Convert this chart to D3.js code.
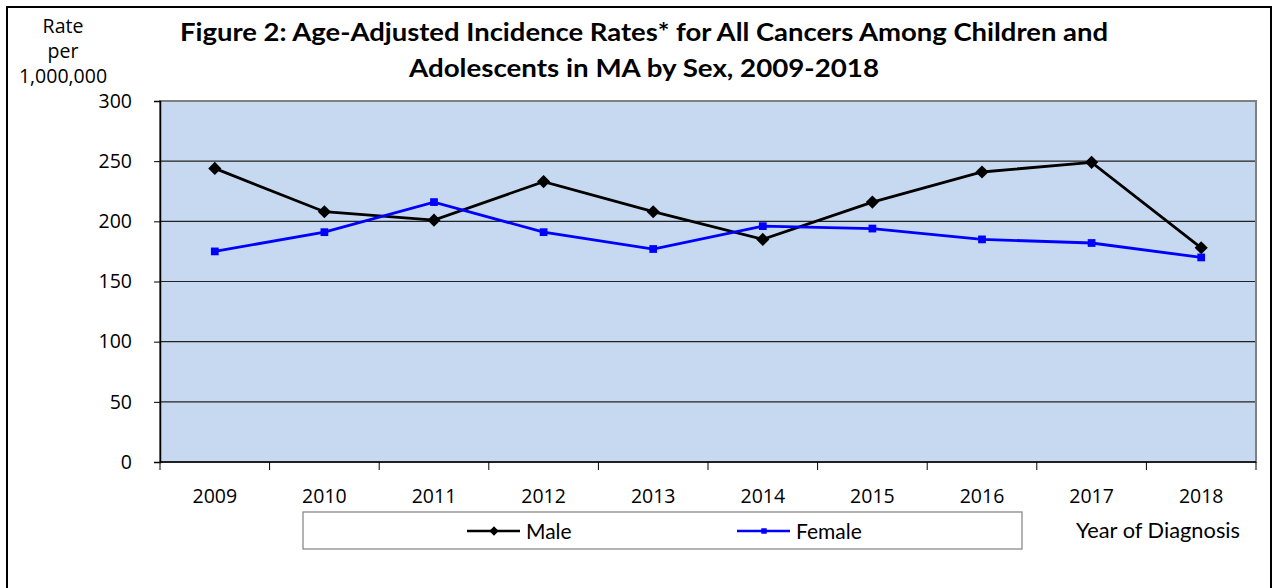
<!DOCTYPE html>
<html>
<head>
<meta charset="utf-8">
<script src="https://cdn.jsdelivr.net/npm/d3@7"></script>
<style>
  body { margin: 0; background: #fff; }
  svg { display: block; }
</style>
</head>
<body>
<svg id="chart" width="1275" height="588"></svg>
<script>
// data
const years = ['2009', '2010', '2011', '2012', '2013', '2014', '2015', '2016', '2017', '2018']
const male = [244, 208, 201, 233, 208, 185, 216, 241, 249, 178]
const female = [175, 191, 216, 191, 177, 196, 194, 185, 182, 170]
const yTicks = [0, 50, 100, 150, 200, 250, 300]
const titleLines = [
    'Figure 2: Age-Adjusted Incidence Rates* for All Cancers Among Children and',
    'Adolescents in MA by Sex, 2009-2018'
]

const svg = d3.select('#chart')
const m = { left: 160, right: 1256, top: 101, bottom: 462 }
const sansFont = "'Open Sans', 'DejaVu Sans', sans-serif"
const titleFont = "Lato, 'Open Sans', sans-serif"

// outer frame
svg.append('path')
    .attr('d', 'M7,592 V7 H1271 V592')
    .attr('fill', 'none')
    .attr('stroke', '#000')
    .attr('stroke-width', 2)

const x = d3.scaleBand().domain(years).range([m.left, m.right])
const y = d3.scaleLinear().domain([0, 300]).range([m.bottom, m.top])

// plot area
svg.append('rect')
    .attr('x', m.left).attr('y', m.top)
    .attr('width', m.right - m.left).attr('height', m.bottom - m.top)
    .attr('fill', '#c6d9f0')

// gridlines
svg.append('g')
    .selectAll('line')
    .data(yTicks.slice(1, -1))
    .join('line')
    .attr('x1', m.left).attr('x2', m.right)
    .attr('y1', d => y(d)).attr('y2', d => y(d))
    .attr('stroke', '#222')
    .attr('stroke-width', 1.2)

svg.append('rect')
    .attr('x', m.left).attr('y', m.top)
    .attr('width', m.right - m.left).attr('height', m.bottom - m.top)
    .attr('fill', 'none')
    .attr('stroke', '#808080')
    .attr('stroke-width', 2)

// y axis
const yAxis = svg.append('g')
    .attr('transform', `translate(${m.left},0)`)
    .call(d3.axisLeft(y).tickValues(yTicks).tickSize(6).tickPadding(22))
yAxis.select('.domain').attr('stroke', '#000').attr('stroke-width', 1.5)
yAxis.selectAll('.tick line').attr('stroke', '#000')
yAxis.selectAll('text')
    .attr('font-family', sansFont)
    .attr('font-size', 19.5)
    .attr('fill', '#000')

// x axis: ticks on band edges
const xg = svg.append('g')
xg.append('line')
    .attr('x1', m.left).attr('x2', m.right)
    .attr('y1', m.bottom).attr('y2', m.bottom)
    .attr('stroke', '#000').attr('stroke-width', 1.5)
xg.selectAll('line.tk')
    .data(years.concat(['end']))
    .join('line')
    .attr('class', 'tk')
    .attr('x1', (d, i) => m.left + i * x.step())
    .attr('x2', (d, i) => m.left + i * x.step())
    .attr('y1', m.bottom).attr('y2', m.bottom + 8)
    .attr('stroke', '#000')
xg.selectAll('text')
    .data(years)
    .join('text')
    .attr('x', d => x(d) + x.bandwidth() / 2)
    .attr('y', 503)
    .attr('text-anchor', 'middle')
    .attr('font-family', sansFont)
    .attr('font-size', 19.5)
    .text(d => d)

// series
const series = [
    { name: 'Male', values: male, color: '#000', shape: d3.symbolDiamond2, size: 110 },
    { name: 'Female', values: female, color: '#0000ff', shape: d3.symbolSquare, size: 60 }
]
const cx = d => x(d) + x.bandwidth() / 2
const line = d3.line().x(d => cx(d.year)).y(d => y(d.v))

series.forEach(s => {
    const pts = years.map((yr, i) => ({ year: yr, v: s.values[i] }))
    svg.append('path')
        .datum(pts)
        .attr('d', line)
        .attr('fill', 'none')
        .attr('stroke', s.color)
        .attr('stroke-width', 2.8)
    svg.append('g')
        .selectAll('path')
        .data(pts)
        .join('path')
        .attr('transform', d => `translate(${cx(d.year)},${y(d.v)})`)
        .attr('d', d3.symbol().type(s.shape).size(s.size))
        .attr('fill', s.color)
})

// title
svg.append('g')
    .selectAll('text')
    .data(titleLines)
    .join('text')
    .attr('x', 644)
    .attr('y', (d, i) => 41 + i * 36)
    .attr('text-anchor', 'middle')
    .attr('font-family', titleFont)
    .attr('font-weight', 'bold')
    .attr('font-size', 25)
    .attr('textLength', (d, i) => i === 0 ? 928 : 470)
    .attr('lengthAdjust', 'spacingAndGlyphs')
    .text(d => d)

// y axis title
svg.append('g')
    .selectAll('text')
    .data(['Rate', 'per', '1,000,000'])
    .join('text')
    .attr('x', 63)
    .attr('y', (d, i) => 33 + i * 25)
    .attr('text-anchor', 'middle')
    .attr('font-family', sansFont)
    .attr('font-size', 19.5)
    .text(d => d)

// x axis title
svg.append('text')
    .attr('x', 1158).attr('y', 538)
    .attr('text-anchor', 'middle')
    .attr('font-family', titleFont)
    .attr('font-size', 20.5)
    .attr('textLength', 164)
    .attr('lengthAdjust', 'spacingAndGlyphs')
    .text('Year of Diagnosis')

// legend
const lg = svg.append('g')
lg.append('rect')
    .attr('x', 303).attr('y', 512)
    .attr('width', 719).attr('height', 37)
    .attr('fill', '#fff')
    .attr('stroke', '#808080')
    .attr('stroke-width', 1.2)
const legX = [467, 737]
series.forEach((s, i) => {
    const g = lg.append('g').attr('transform', `translate(${legX[i]},531)`)
    g.append('line')
        .attr('x1', 0).attr('x2', 53)
        .attr('stroke', s.color).attr('stroke-width', 2.5)
    g.append('path')
        .attr('transform', 'translate(27,0)')
        .attr('d', d3.symbol().type(s.shape).size(s.size * 0.5))
        .attr('fill', s.color)
    g.append('text')
        .attr('x', 59).attr('y', 8)
        .attr('font-family', titleFont)
        .attr('font-size', 21)
        .text(s.name)
})
</script>
</body>
</html>
